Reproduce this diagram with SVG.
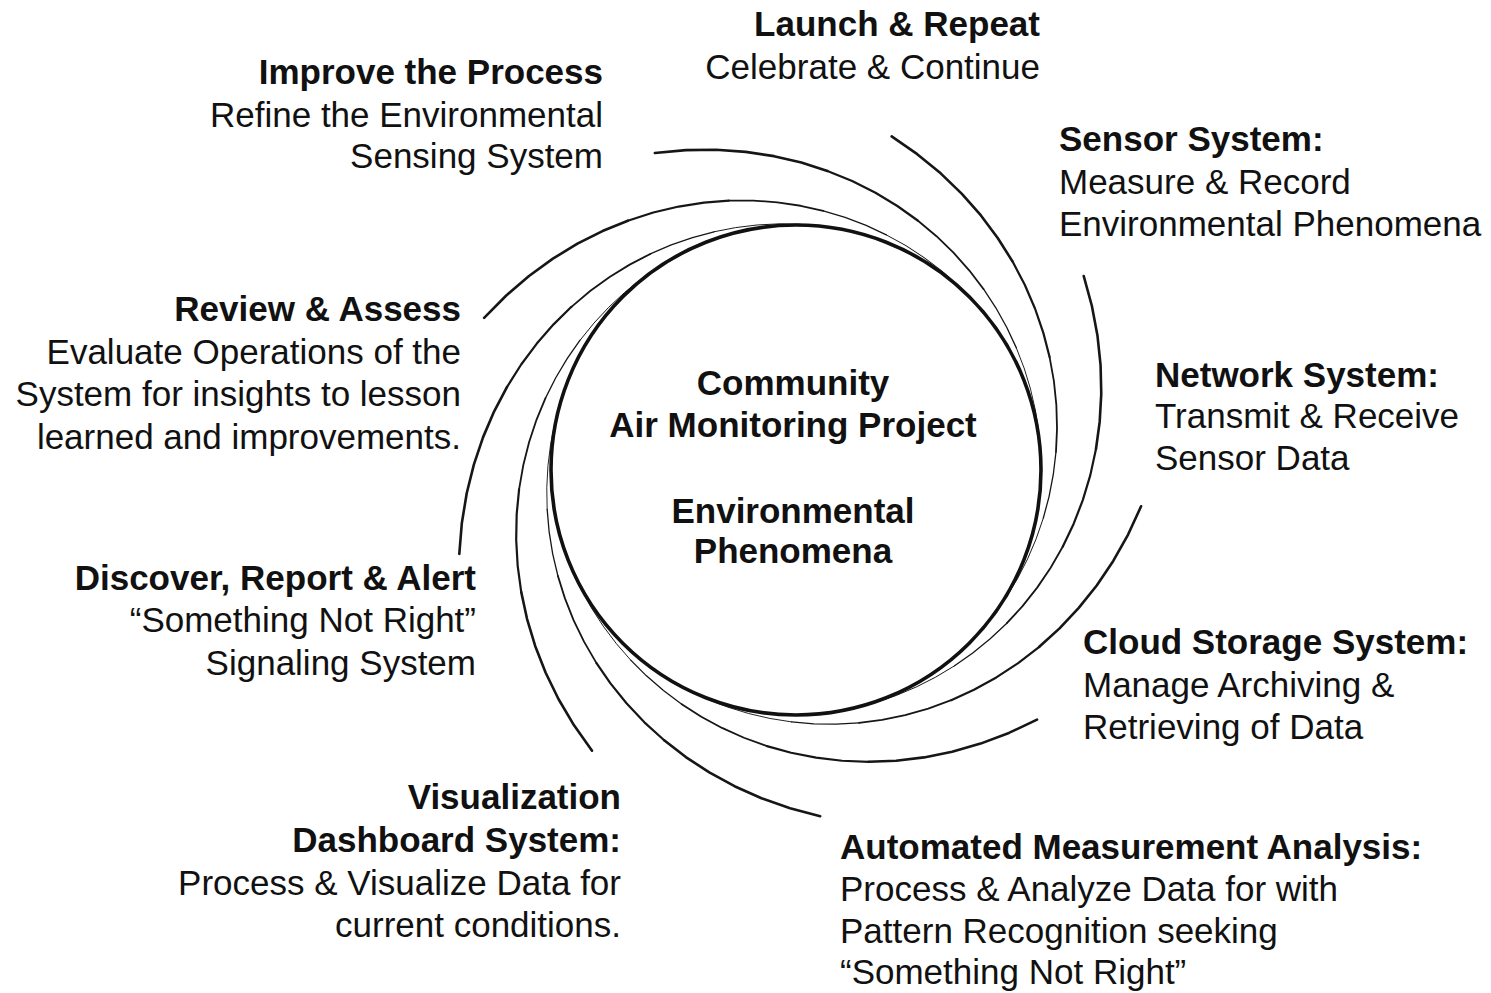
<svg xmlns="http://www.w3.org/2000/svg" xmlns:xlink="http://www.w3.org/1999/xlink" width="1491" height="993" viewBox="0 0 1491 993">
<style>
text{font-family:"Liberation Sans",Arial,sans-serif;font-size:35px;fill:#111}
.b{font-weight:bold}
.e{text-anchor:end}
.m{text-anchor:middle}
.sw path{fill:none;stroke:#161616;stroke-linecap:round;stroke-linejoin:round}
</style>
<defs>
<g id="arc" class="sw">
<path stroke-width="2.6" d="M347,0 L337.03,29.49 L325.02,57.31 L311.15,83.37 L295.64,107.6 L278.66,129.94 L260.43,150.36"/>
<path stroke-width="2.2" d="M260.43,150.36 L241.13,168.84 L220.91,185.37 L199.97,199.97 L178.43,212.65"/>
<path stroke-width="1.8" d="M178.43,212.65 L156.45,223.44 L134.17,232.38 L111.69,239.52 L89.14,244.9"/>
<path stroke-width="1.3" d="M89.14,244.9 L66.6,248.57 L44.18,250.58 L21.96,250.98"/>
<path stroke-width="0.9" d="M21.96,250.98 L0,249.82 L-21.62,247.14 L-42.85,242.99 L-63.61,237.4"/>
</g>
</defs>
<rect width="1491" height="993" fill="#fff"/>
<g id="swirl-arcs">
<use xlink:href="#arc" transform="translate(796 470) rotate(286)"/>
<use xlink:href="#arc" transform="translate(796 470) rotate(326)"/>
<use xlink:href="#arc" transform="translate(796 470) rotate(6)"/>
<use xlink:href="#arc" transform="translate(796 470) rotate(46)"/>
<use xlink:href="#arc" transform="translate(796 470) rotate(86)"/>
<use xlink:href="#arc" transform="translate(796 470) rotate(126)"/>
<use xlink:href="#arc" transform="translate(796 470) rotate(166)"/>
<use xlink:href="#arc" transform="translate(796 470) rotate(206)"/>
<use xlink:href="#arc" transform="translate(796 470) rotate(246)"/>
</g>
<g id="center">
<circle cx="796" cy="470" r="245" fill="none" stroke="#111" stroke-width="3.6"/>
<text class="b m" x="793" y="395">Community</text>
<text class="b m" x="793" y="437">Air Monitoring Project</text>
<text class="b m" x="793" y="523">Environmental</text>
<text class="b m" x="793" y="563">Phenomena</text>
</g>
<g id="launch">
<text class="b e" x="1040" y="36">Launch &amp; Repeat</text>
<text class="e" x="1040" y="79">Celebrate &amp; Continue</text>
</g>
<g id="sensor">
<text class="b" x="1059" y="151">Sensor System:</text>
<text x="1059" y="194">Measure &amp; Record</text>
<text x="1059" y="236">Environmental Phenomena</text>
</g>
<g id="network">
<text class="b" x="1155" y="387">Network System:</text>
<text x="1155" y="428">Transmit &amp; Receive</text>
<text x="1155" y="470">Sensor Data</text>
</g>
<g id="cloud">
<text class="b" x="1083" y="654">Cloud Storage System:</text>
<text x="1083" y="697">Manage Archiving &amp;</text>
<text x="1083" y="739">Retrieving of Data</text>
</g>
<g id="automated">
<text class="b" x="840" y="859">Automated Measurement Analysis:</text>
<text x="840" y="901">Process &amp; Analyze Data for with</text>
<text x="840" y="943">Pattern Recognition seeking</text>
<text x="840" y="984">“Something Not Right”</text>
</g>
<g id="visualization">
<text class="b e" x="621" y="809">Visualization</text>
<text class="b e" x="621" y="852">Dashboard System:</text>
<text class="e" x="621" y="895">Process &amp; Visualize Data for</text>
<text class="e" x="621" y="937">current conditions.</text>
</g>
<g id="discover">
<text class="b e" x="476" y="590">Discover, Report &amp; Alert</text>
<text class="e" x="476" y="632">“Something Not Right”</text>
<text class="e" x="476" y="675">Signaling System</text>
</g>
<g id="review">
<text class="b e" x="461" y="321">Review &amp; Assess</text>
<text class="e" x="461" y="364">Evaluate Operations of the</text>
<text class="e" x="461" y="406">System for insights to lesson</text>
<text class="e" x="461" y="449">learned and improvements.</text>
</g>
<g id="improve">
<text class="b e" x="603" y="84">Improve the Process</text>
<text class="e" x="603" y="127">Refine the Environmental</text>
<text class="e" x="603" y="168">Sensing System</text>
</g>
</svg>
